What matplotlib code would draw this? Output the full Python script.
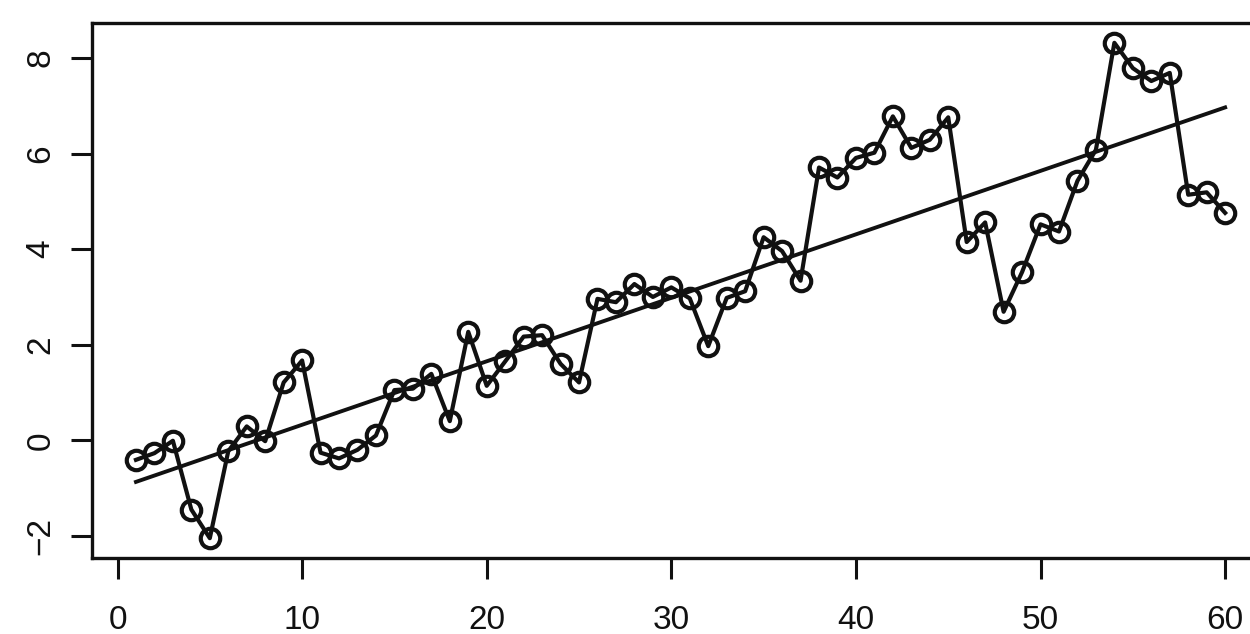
import numpy as np
import matplotlib
matplotlib.use("Agg")
import matplotlib.pyplot as plt

plt.rcParams["font.family"] = ["Liberation Sans", "DejaVu Sans"]

# series, one value per time step
t = list(range(1, 61))
values = [
    -0.41, -0.27, -0.01, -1.45, -2.05, -0.23, 0.29, -0.02, 1.21, 1.67,
    -0.26, -0.38, -0.20, 0.10, 1.05, 1.08, 1.39, 0.40, 2.27, 1.14,
    1.65, 2.17, 2.20, 1.60, 1.21, 2.96, 2.89, 3.27, 3.00, 3.20,
    2.97, 1.97, 2.98, 3.12, 4.25, 3.96, 3.34, 5.71, 5.50, 5.91,
    6.02, 6.78, 6.12, 6.29, 6.76, 4.15, 4.56, 2.69, 3.52, 4.52,
    4.37, 5.43, 6.08, 8.32, 7.79, 7.52, 7.69, 5.14, 5.19, 4.76,
]
x_ticks = [0, 10, 20, 30, 40, 50, 60]
y_ticks = [-2, 0, 2, 4, 6, 8]

# least-squares trend over the whole series
slope, intercept = np.polyfit(t, values, 1)
trend = [intercept + slope * v for v in t]

fig = plt.figure(figsize=(12.5, 6.34), dpi=100)
ax = fig.add_axes([92.4 / 1250, 76 / 634, 1176.3 / 1250, 535 / 634])

ax.plot(t, values, color="#111111", linewidth=3.0, marker="o", markersize=14,
        fillstyle="none", markeredgewidth=3.0, zorder=3)
ax.plot(t, trend, color="#111111", linewidth=2.8, zorder=2)

# R-style 4% padding around the data range
ax.set_xlim(1 - 0.04 * 59, 60 + 0.04 * 59)
ax.set_ylim(-2.05 - 0.04 * 10.37, 8.32 + 0.04 * 10.37)
ax.set_xticks(x_ticks)
ax.set_xticklabels([str(v) for v in x_ticks], fontsize=24)
ax.set_yticks(y_ticks)
ax.set_yticklabels([str(v).replace("-", "\u2212") for v in y_ticks],
                   rotation=90, va="center", fontsize=24)

for side in ax.spines.values():
    side.set_linewidth(2.4)
    side.set_color("#111111")
ax.tick_params(axis="both", length=15, width=2.2, color="#111111",
               labelcolor="#111111")
ax.tick_params(axis="x", pad=19)
ax.tick_params(axis="y", pad=11)

fig.savefig("out.png", dpi=100, facecolor="white")
